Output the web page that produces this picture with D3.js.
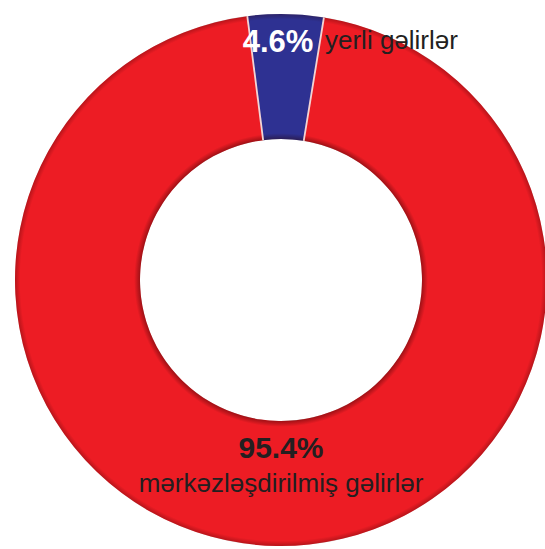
<!DOCTYPE html>
<html>
<head>
<meta charset="utf-8">
<script src="https://cdn.jsdelivr.net/npm/d3@7/dist/d3.min.js"></script>
<style>
  html, body { margin: 0; padding: 0; background: #ffffff; }
  svg { display: block; }
</style>
</head>
<body>
<svg id="chart" width="545" height="549"></svg>
<script>
// Revenue structure
const categories = ["yerli gəlirlər", "mərkəzləşdirilmiş gəlirlər"];
const shares = [4.6, 95.4];
const valueLabels = ["4.6%", "95.4%"];
const sliceColors = ["#2E3192", "#ED1C24"];

const width = 545, height = 549;
const cx = 281, cy = 280;
const outerR = 266, innerR = 141;

const svg = d3.select("#chart");
const g = svg.append("g").attr("transform", `translate(${cx},${cy})`);

const data = categories.map((c, i) => ({ name: c, value: shares[i], label: valueLabels[i], color: sliceColors[i] }));

// Small slice sits at the top, starting slightly left of twelve o'clock
const startA = -0.127;
const pie = d3.pie().value(d => d.value).sort(null)
  .startAngle(startA).endAngle(startA + 2 * Math.PI);
const arcs = pie(data);
const arc = d3.arc().innerRadius(innerR).outerRadius(outerR);

g.selectAll("path.slice")
  .data(arcs)
  .join("path")
  .attr("class", "slice")
  .attr("d", arc)
  .attr("fill", d => d.data.color);

// Soft bevel shading along the ring's inner and outer rims
const defs = svg.append("defs");
const grad = defs.append("radialGradient")
  .attr("id", "rim")
  .attr("gradientUnits", "userSpaceOnUse")
  .attr("cx", 0).attr("cy", 0).attr("r", outerR);
const f = innerR / outerR;
[
  [f, "rgba(40,0,0,0.4)"],
  [f + 0.022, "rgba(40,0,0,0)"],
  [0.98, "rgba(40,0,0,0)"],
  [1.0, "rgba(40,0,0,0.28)"]
].forEach(([o, c]) => grad.append("stop").attr("offset", o).attr("stop-color", c));

g.append("path")
  .attr("d", d3.arc().innerRadius(innerR).outerRadius(outerR).startAngle(0).endAngle(2 * Math.PI)())
  .attr("fill", "url(#rim)")
  .attr("pointer-events", "none");

// Light separators along slice boundaries
g.selectAll("line.sep")
  .data(arcs.map(a => a.startAngle))
  .join("line")
  .attr("class", "sep")
  .attr("x1", a => innerR * Math.sin(a))
  .attr("y1", a => -innerR * Math.cos(a))
  .attr("x2", a => outerR * Math.sin(a))
  .attr("y2", a => -outerR * Math.cos(a))
  .attr("stroke", "#f2d4d4")
  .attr("stroke-width", 1.8);

const font = "'Liberation Sans', Arial, Helvetica, sans-serif";

// Small slice: white percentage on the slice, name to its right
const small = arcs[0];
g.append("text")
  .attr("x", 278 - cx)
  .attr("y", 52 - cy)
  .attr("text-anchor", "middle")
  .attr("font-family", font)
  .attr("font-weight", "bold")
  .attr("font-size", 31)
  .attr("fill", "#ffffff")
  .text(small.data.label);
g.append("text")
  .attr("x", 325 - cx)
  .attr("y", 49 - cy)
  .attr("font-family", font)
  .attr("font-size", 26)
  .attr("fill", "#231F20")
  .text(small.data.name);

// Large slice: percentage and name at the bottom of the ring
const big = arcs[1];
g.append("text")
  .attr("x", 0)
  .attr("y", 458 - cy)
  .attr("text-anchor", "middle")
  .attr("font-family", font)
  .attr("font-weight", "bold")
  .attr("font-size", 30)
  .attr("fill", "#231F20")
  .text(big.data.label);
g.append("text")
  .attr("x", 0)
  .attr("y", 492 - cy)
  .attr("text-anchor", "middle")
  .attr("font-family", font)
  .attr("font-size", 26)
  .attr("fill", "#231F20")
  .text(big.data.name);
</script>
</body>
</html>
